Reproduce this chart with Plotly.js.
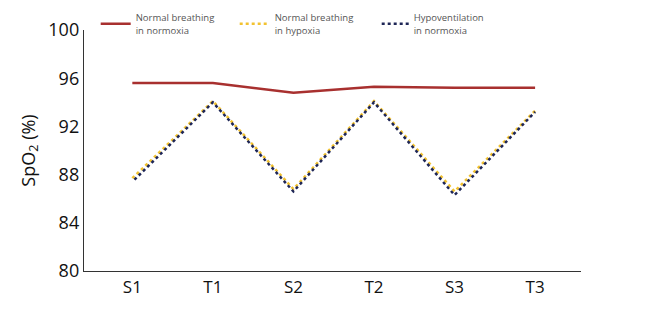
<!DOCTYPE html>
<html>
<head>
<meta charset="utf-8">
<script src="https://cdn.plot.ly/plotly-3.0.1.min.js"></script>
<style>html,body{margin:0;padding:0;background:#fff;}</style>
</head>
<body>
<div id="chart" style="width:660px;height:322px;"></div>
<script>
const categories = ["S1", "T1", "S2", "T2", "S3", "T3"];
const normoxiaNormal = [95.6, 95.6, 94.8, 95.3, 95.2, 95.2];
const hypoxiaNormal = [87.7, 94.1, 86.8, 94.1, 86.6, 93.3];
const normoxiaHypo = [87.4, 94.0, 86.6, 94.0, 86.3, 93.2];
const yTicks = [80, 84, 88, 92, 96, 100];

const traces = [
  {x: categories, y: normoxiaNormal, type: "scatter", mode: "lines",
   name: "Normal breathing<br>in normoxia",
   line: {color: "#a8302f", width: 2.5}},
  {x: categories, y: hypoxiaNormal, type: "scatter", mode: "lines",
   name: "Normal breathing<br>in hypoxia",
   line: {color: "#f2c230", width: 2.5, dash: "3px,3px"}},
  {x: categories, y: normoxiaHypo, type: "scatter", mode: "lines",
   name: "Hypoventilation<br>in normoxia",
   line: {color: "#1e2656", width: 2.5, dash: "0px,3px,3px,0px"}}
];

const layout = {
  width: 660, height: 322,
  margin: {l: 84, r: 79, t: 30, b: 51, autoexpand: false},
  paper_bgcolor: "#fff", plot_bgcolor: "#fff",
  font: {family: "Open Sans, Noto Sans, sans-serif", color: "#111"},
  showlegend: true,
  legend: {orientation: "h", xref: "container", yref: "container", x: 0.145, y: 0.985,
           xanchor: "left", yanchor: "top",
           font: {size: 9.5, color: "#555"}, entrywidth: 94, entrywidthmode: "pixels",
           itemwidth: 30, tracegroupgap: 0, bgcolor: "rgba(0,0,0,0)"},
  xaxis: {type: "category", range: [-0.6, 5.57], showline: true, linecolor: "#333", linewidth: 1.2,
          showgrid: false, zeroline: false, ticks: "", tickfont: {size: 17, color: "#111"}, ticklen: 0},
  yaxis: {range: [80, 100], tickvals: yTicks, ticktext: yTicks.map(String),
          showline: true, linecolor: "#333", linewidth: 1.2, showgrid: false, zeroline: false,
          ticks: "", tickfont: {size: 18, color: "#111"},
          title: {text: "SpO<sub>2</sub> (%)", font: {size: 18, color: "#111"}, standoff: 8}}
};

Plotly.newPlot("chart", traces, layout, {displayModeBar: false, staticPlot: true});
</script>
</body>
</html>
